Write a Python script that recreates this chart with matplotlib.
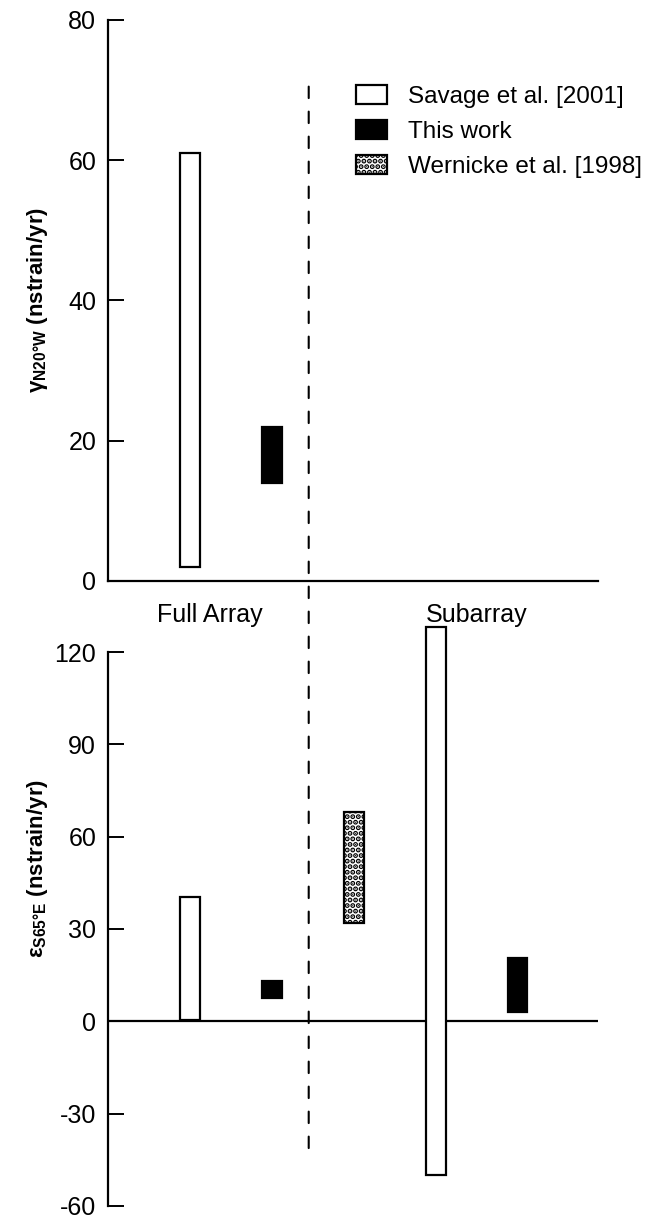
import matplotlib.pyplot as plt
from matplotlib.patches import Patch, ConnectionPatch
from matplotlib.transforms import blended_transform_factory

plt.rcParams['font.family'] = ['Liberation Sans', 'DejaVu Sans']
plt.rcParams['mathtext.fontset'] = 'custom'
plt.rcParams['mathtext.rm'] = 'Liberation Sans'
plt.rcParams['mathtext.bf'] = 'Liberation Sans:bold'
plt.rcParams['mathtext.it'] = 'Liberation Sans:italic'
plt.rcParams['axes.unicode_minus'] = False
plt.rcParams['hatch.linewidth'] = 2.6

# strain-rate ranges (nstrain/yr) as (low, high)
sources = ['Savage et al. [2001]', 'This work', 'Wernicke et al. [1998]']
groups = ['Full Array', 'Subarray']
group_x = [1.24, 4.5]

# shear rate, full array only
shear_x = [1, 2]
shear_src = [0, 1]
shear_low = [2, 14]
shear_high = [61, 22]

# extension rate, full array and subarray
ext_x = [1, 2, 3, 4, 5]
ext_src = [0, 1, 2, 0, 1]
ext_low = [0.5, 7.5, 32, -50, 3]
ext_high = [40.5, 13, 68, 128, 20.5]

styles = [dict(facecolor='white', edgecolor='black', hatch=None),
          dict(facecolor='black', edgecolor='black', hatch=None),
          dict(facecolor='white', edgecolor='black', hatch='...')]

tick_fs = 18
text_fs = 18
legend_fs = 17.5
label_fs = 16
bw = 0.24
xmax = 5.98

fig = plt.figure(figsize=(6.52, 12.19), dpi=100)
ax1 = fig.add_axes([0.1656, 0.5234, 0.7515, 0.4602])
ax2 = fig.add_axes([0.1656, 0.0107, 0.7515, 0.4544])


def draw_bars(ax, xs, src, low, high):
    for x, s, lo, hi in zip(xs, src, low, high):
        st = styles[s]
        ax.bar(x, hi - lo, bottom=lo, width=bw, facecolor=st['facecolor'],
               edgecolor=st['edgecolor'], hatch=st['hatch'], linewidth=1.6,
               clip_on=False, zorder=3)


def style_axis(ax):
    for side in ['top', 'right']:
        ax.spines[side].set_visible(False)
    ax.spines['left'].set_linewidth(1.6)
    ax.spines['bottom'].set_linewidth(1.6)
    ax.tick_params(axis='y', direction='in', length=11.5, width=1.4,
                   pad=8.5, labelsize=tick_fs)
    ax.set_xticks([])
    ax.set_xlim(0, xmax)


draw_bars(ax1, shear_x, shear_src, shear_low, shear_high)
style_axis(ax1)
ax1.set_ylim(0, 80)
ax1.set_yticks([0, 20, 40, 60, 80])
ax1.set_ylabel('γ$_{\\mathbf{N20°W}}$ (nstrain/yr)', fontsize=label_fs,
               fontweight='bold')
ax1.yaxis.set_label_coords(-0.118, 0.5)

draw_bars(ax2, ext_x, ext_src, ext_low, ext_high)
style_axis(ax2)
ax2.spines['bottom'].set_visible(False)
ax2.axhline(0, color='black', linewidth=1.6, zorder=2)
ax2.set_ylim(-60, 120)
ax2.set_yticks([-60, -30, 0, 30, 60, 90, 120])
ax2.set_ylabel('ε$_{\\mathbf{S65°E}}$ (nstrain/yr)', fontsize=label_fs,
               fontweight='bold')
ax2.yaxis.set_label_coords(-0.118, 0.61)

# group names under the upper panel
trans = blended_transform_factory(ax1.transData, ax1.transAxes)
for name, gx in zip(groups, group_x):
    ax1.text(gx, -0.061, name, transform=trans, ha='center', va='center',
             fontsize=text_fs)

# dashed divider between full array and subarray
div = ConnectionPatch(xyA=(2.45, 70.5), coordsA=ax1.transData,
                      xyB=(2.45, -41.3), coordsB=ax2.transData,
                      linestyle=(0, (5.5, 6.5)), linewidth=1.5, color='black')
fig.add_artist(div)

handles = [Patch(facecolor=st['facecolor'], edgecolor=st['edgecolor'],
                 hatch=st['hatch'], linewidth=1.6) for st in styles]
ax1.legend(handles, sources, loc='upper left', bbox_to_anchor=(0.506, 0.885),
           frameon=False, fontsize=legend_fs, handlelength=1.28,
           handleheight=0.85, handletextpad=0.86, labelspacing=0.5,
           borderpad=0, borderaxespad=0)

fig.savefig('out.png', dpi=100)
